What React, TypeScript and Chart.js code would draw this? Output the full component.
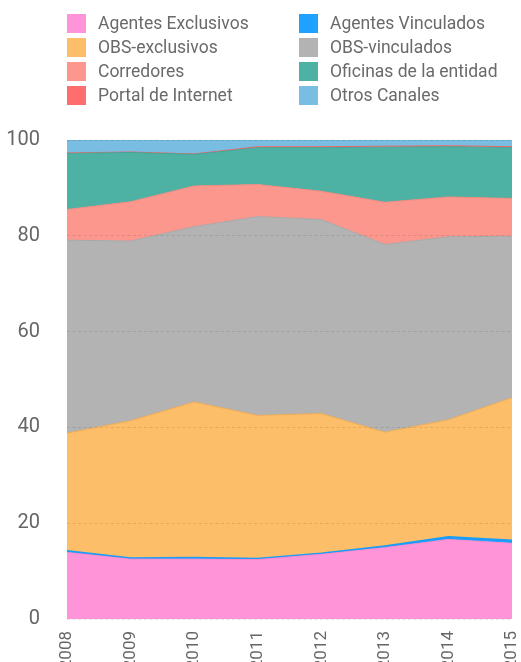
import React, { useEffect, useRef } from "react";
import { Chart, registerables } from "chart.js";

Chart.register(...registerables);

const years = ["2008", "2009", "2010", "2011", "2012", "2013", "2014", "2015"];
const yTicks = [0, 20, 40, 60, 80, 100];

const agentesExclusivos = [13.9, 12.5, 12.5, 12.4, 13.5, 14.9, 16.6, 15.8];
const agentesVinculados = [0.3, 0.2, 0.3, 0.2, 0.2, 0.3, 0.5, 0.6];
const obsExclusivos = [24.6, 28.7, 32.5, 29.9, 29.2, 23.8, 24.5, 29.8];
const obsVinculados = [40.3, 37.5, 36.6, 41.5, 40.5, 39.2, 38.2, 33.7];
const corredores = [6.4, 8.2, 8.5, 6.7, 5.9, 8.8, 8.3, 7.9];
const oficinas = [11.7, 10.3, 6.6, 7.7, 9.1, 11.5, 10.5, 10.6];
const portal = [0.1, 0.1, 0.1, 0.2, 0.2, 0.2, 0.2, 0.2];
const otros = [2.7, 2.5, 2.9, 1.4, 1.4, 1.3, 1.2, 1.4];

// stacking order (bottom to top)
const series = [
  { label: "Agentes Exclusivos", data: agentesExclusivos, color: "#ff94d8", border: "#f58acd" },
  { label: "Agentes Vinculados", data: agentesVinculados, color: "#1ea1ff", border: "#1a9cf7" },
  { label: "OBS-exclusivos", data: obsExclusivos, color: "#fdbe6a", border: "#eeaa55" },
  { label: "OBS-vinculados", data: obsVinculados, color: "#b3b3b3", border: "#a8a8a8" },
  { label: "Corredores", data: corredores, color: "#fb978c", border: "#f08a80" },
  { label: "Oficinas de la entidad", data: oficinas, color: "#4db2a4", border: "#45a597" },
  { label: "Portal de Internet", data: portal, color: "#ff6e6e", border: "#f06565" },
  { label: "Otros Canales", data: otros, color: "#79bde3", border: "#6db2d9" },
];

// legend layout (two columns, row-wise)
const legendOrder = [
  "Agentes Exclusivos",
  "Agentes Vinculados",
  "OBS-exclusivos",
  "OBS-vinculados",
  "Corredores",
  "Oficinas de la entidad",
  "Portal de Internet",
  "Otros Canales",
];

export default function App() {
  const ref = useRef<HTMLCanvasElement | null>(null);

  useEffect(() => {
    if (!ref.current) return;
    const chart = new Chart(ref.current, {
      type: "line",
      data: {
        labels: years,
        datasets: series.map((s, i) => ({
          label: s.label,
          data: s.data,
          backgroundColor: s.color,
          borderColor: s.border,
          borderWidth: i === 1 ? 2 : 1,
          fill: i === 0 ? "origin" : "-1",
          pointRadius: 0,
          tension: 0,
        })),
      },
      options: {
        responsive: false,
        animation: false,
        devicePixelRatio: 1,
        layout: { padding: { top: 140, right: 9, left: 0, bottom: 0 } },
        plugins: { legend: { display: false }, tooltip: { enabled: false } },
        scales: {
          x: {
            offset: false,
            grid: { display: false },
            border: { display: false },
            ticks: {
              color: "#666",
              font: { family: "Roboto", size: 17 },
              minRotation: 90,
              maxRotation: 90,
              padding: 4,
              autoSkip: false,
            },
            afterFit: (scale: any) => {
              scale.height = 43;
              scale.paddingLeft = 0;
              scale.paddingRight = 0;
            },
          },
          y: {
            stacked: true,
            min: 0,
            max: 100,
            afterBuildTicks: (scale: any) => {
              scale.ticks = yTicks.map((v) => ({ value: v }));
            },
            grid: {
              color: "rgba(0,0,0,0.1)",
              drawTicks: false,
              lineWidth: 1,
              z: 1,
            },
            border: { display: false, dash: [3, 2.5] },
            ticks: {
              color: "#666",
              font: { family: "Roboto", size: 20 },
              padding: 27,
            },
            afterFit: (scale: any) => {
              scale.width = 67;
            },
          },
        },
      },
    });
    return () => chart.destroy();
  }, []);

  const byLabel: Record<string, string> = {};
  series.forEach((s) => (byLabel[s.label] = s.color));

  return (
    <div style={{ position: "absolute", left: 0, top: 0, width: 521, height: 662, background: "#fff" }}>
      <canvas ref={ref} width={521} height={662} style={{ position: "absolute", left: 0, top: 0 }} />
      <div
        style={{
          position: "absolute",
          left: 67,
          top: 14,
          display: "grid",
          gridTemplateColumns: "232px 210px",
          rowGap: 5,
          fontFamily: "Roboto",
          fontSize: 17.5,
          color: "#6a6a6a",
        }}
      >
        {legendOrder.map((name) => (
          <div key={name} style={{ display: "flex", alignItems: "center", height: 19 }}>
            <span style={{ display: "inline-block", width: 19, height: 19, background: byLabel[name], marginRight: 12, flex: "none" }} />
            <span style={{ lineHeight: "19px", whiteSpace: "nowrap" }}>{name}</span>
          </div>
        ))}
      </div>
    </div>
  );
}
